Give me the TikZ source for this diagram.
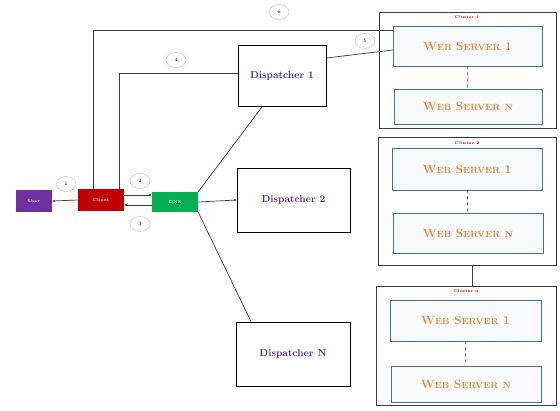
\documentclass[tikz,border=0pt]{standalone}
\usetikzlibrary{shapes.geometric,arrows.meta}
\definecolor{upurple}{HTML}{7030A0}
\definecolor{cred}{HTML}{C00000}
\definecolor{dgreen}{HTML}{00B050}
\definecolor{dtext}{HTML}{4B2A8A}
\definecolor{wsorange}{HTML}{E8873A}
\definecolor{wsborder}{HTML}{41719C}
\definecolor{wsfill}{HTML}{F7FBFE}
\definecolor{lgray}{HTML}{3A3A3A}
\newcommand{\wsname}[1]{\bfseries W{\small EB} S{\small ERVER} #1}
\tikzset{
  small/.style={draw=none, text=white, font=\fontsize{4}{4}\selectfont\bfseries, inner sep=0pt},
  disp/.style={draw=black, line width=0.9pt, fill=white, text=dtext, font=\bfseries\normalsize, inner sep=0pt},
  clus/.style={draw=lgray, line width=0.8pt, fill=white, inner sep=0pt},
  ws/.style={draw=wsborder, line width=0.7pt, fill=wsfill, text=wsorange, font=\large, inner sep=0pt},
  clab/.style={text=cred, font=\fontsize{4}{4}\selectfont\bfseries, inner sep=0pt},
  num/.style={ellipse, draw=gray!45, line width=0.5pt, minimum width=20pt, minimum height=15pt, inner sep=0pt, font=\fontsize{5}{5}\selectfont},
  conn/.style={draw=lgray, line width=0.7pt},
  tip/.style={-{Stealth[length=3pt,width=2.5pt]}},
}
\begin{document}
\begin{tikzpicture}[x=1pt,y=-1pt]
\useasboundingbox (0,0) rectangle (560,410);
\fill[white] (0,0) rectangle (560,410);
% small boxes
\node[small, fill=upurple, minimum width=36pt, minimum height=22pt] (user) at (34,201) {User};
\node[small, fill=cred, minimum width=46pt, minimum height=22pt] (client) at (101,200) {Client};
\node[small, fill=dgreen, minimum width=46pt, minimum height=20pt] (dns) at (175,202) {DNS};
% dispatchers
\node[disp, minimum width=88pt, minimum height=61pt] (d1) at (282,76) {Dispatcher 1};
\node[disp, minimum width=113pt, minimum height=64pt] (d2) at (293.5,200) {Dispatcher 2};
\node[disp, minimum width=114pt, minimum height=64pt] (dn) at (293,354) {Dispatcher N};
% clusters
\node[clus, minimum width=177pt, minimum height=116pt] (c1) at (467.5,70) {};
\node[clus, minimum width=178pt, minimum height=128pt] (c2) at (467,201) {};
\node[clus, minimum width=180pt, minimum height=119pt] (cn) at (466,345.5) {};
\node[clab] (c1lab) at (467,17.5) {Cluster 1};
\node[clab] (c2lab) at (467,143) {Cluster 2};
\node[clab] (cnlab) at (466,291.5) {Cluster n};
\node[ws, minimum width=149pt, minimum height=40pt] (c1a) at (467.5,46) {\wsname{1}};
\node[ws, minimum width=148pt, minimum height=35pt] (c1b) at (468,106.5) {\wsname{{\small N}}};
\node[ws, minimum width=150pt, minimum height=42pt] (c2a) at (467,169) {\wsname{1}};
\node[ws, minimum width=150pt, minimum height=40pt] (c2b) at (468,233) {\wsname{{\small N}}};
\node[ws, minimum width=151pt, minimum height=41pt] (cna) at (465.5,320.5) {\wsname{1}};
\node[ws, minimum width=150pt, minimum height=36pt] (cnb) at (466,384) {\wsname{{\small N}}};
\draw[conn, dashed] (c1a) -- (c1b);
\draw[conn, dashed] (c2a) -- (c2b);
\draw[conn, dashed] (cna) -- (cnb);
\draw[conn] ([xshift=5pt]c2.south) -- ([xshift=6pt]cn.north);
% connectors
\draw[conn, tip] (client.west) -- (user.east);
\draw[conn, tip] ([yshift=5pt]client.east) -- ([yshift=5pt]client.east -| dns.west);
\draw[conn, tip] ([yshift=-5pt]client.east -| dns.west) -- ([yshift=-5pt]client.east);
\draw[conn] ([xshift=18pt]client.north) |- ([yshift=3pt]d1.west);
\draw[conn] ([xshift=-8pt]client.north) |- ([yshift=16pt]c1a.west);
\draw[conn] ([yshift=18pt]d1.east) -- ([yshift=-4pt]c1a.west);
\draw[conn] (dns.north east) -- ([xshift=-20pt]d1.south);
\draw[conn, tip] (dns.east) -- (d2.west);
\draw[conn] (dns.south east) -- ([xshift=-42pt]dn.north);
% step numbers
\node[num] (n1) at (66,184) {1};
\node[num] (n2) at (140,181) {2};
\node[num] (n3) at (140,224) {3};
\node[num] (n4) at (176,60) {4};
\node[num] (n5) at (365,41) {5};
\node[num] (n6) at (279,12) {6};
\end{tikzpicture}
\end{document}
